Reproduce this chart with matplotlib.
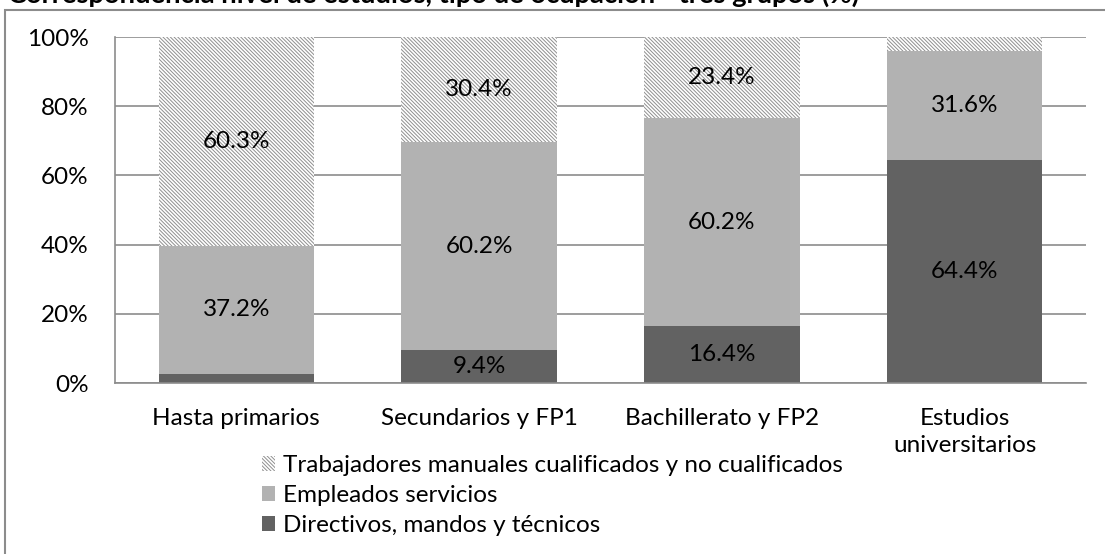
import numpy as np
import matplotlib.pyplot as plt
from matplotlib.patches import Rectangle, Patch

plt.rcParams['font.family'] = ['Lato', 'DejaVu Sans']
plt.rcParams['hatch.color'] = '#8f8f8f'
plt.rcParams['hatch.linewidth'] = 0.7

# Datos
categorias = ['Hasta primarios', 'Secundarios y FP1', 'Bachillerato y FP2', 'Estudios\nuniversitarios']
directivos = [2.5, 9.4, 16.4, 64.4]
empleados = [37.2, 60.2, 60.2, 31.6]
trabajadores = [60.3, 30.4, 23.4, 4.0]
series_labels = ['Directivos, mandos y técnicos', 'Empleados servicios',
                 'Trabajadores manuales cualificados y no cualificados']
min_label = 5.0  # no se rotulan los segmentos pequeños

W, H = 1105, 554
fs = 17.5
hatch = '\\' * 9
fig = plt.figure(figsize=(W / 100, H / 100), dpi=100)

# marco exterior del gráfico
fig.patches.append(Rectangle((5 / W, -0.05), 1.2, 1 - 10 / H + 0.05,
                             transform=fig.transFigure, fill=False,
                             edgecolor='#8c8c8c', linewidth=1.5, zorder=0))
fig.text(8 / W, 1 - 3 / H, 'Correspondencia nivel de estudios, tipo de ocupación - tres grupos (%)',
         fontsize=19.7, fontweight='bold', va='baseline', ha='left')

ax = fig.add_axes([115 / W, 1 - 383 / H, (1086 - 115) / W, (383 - 37) / H])

x = np.arange(len(categorias))
width = 0.64
b1 = ax.bar(x, directivos, width, color='#626262', zorder=2)
b2 = ax.bar(x, empleados, width, bottom=directivos, color='#b2b2b2', zorder=2)
bottom3 = np.array(directivos) + np.array(empleados)
b3 = ax.bar(x, trabajadores, width, bottom=bottom3, color='white',
            hatch=hatch, edgecolor='#8f8f8f', linewidth=0, zorder=2)

for bars, vals, bot in [(b1, directivos, np.zeros(4)),
                        (b2, empleados, np.array(directivos)),
                        (b3, trabajadores, bottom3)]:
    for xi, v, b in zip(x, vals, bot):
        if v >= min_label:
            ax.text(xi, b + v / 2, f'{v:.1f}%', ha='center', va='center',
                    fontsize=fs, color='black', zorder=3)

ax.set_xlim(-0.5, len(categorias) - 0.5)
ax.set_ylim(0, 100)
ax.set_yticks(range(0, 101, 20))
ax.set_yticklabels([f'{v}%' for v in range(0, 101, 20)], fontsize=fs)
ax.set_xticks(x)
ax.set_xticklabels(categorias, fontsize=fs, linespacing=1.35)
ax.tick_params(axis='both', length=0)
ax.tick_params(axis='x', pad=18)
ax.tick_params(axis='y', pad=19)
ax.grid(axis='y', color='#8c8c8c', linewidth=1.2, zorder=0)
for s in ['top', 'right']:
    ax.spines[s].set_visible(False)
ax.spines['left'].set_color('#8c8c8c')
ax.spines['bottom'].set_color('#8c8c8c')
ax.spines['left'].set_linewidth(1.2)
ax.spines['bottom'].set_linewidth(1.2)

handles = [Patch(facecolor='white', hatch=hatch, edgecolor='#8f8f8f', linewidth=0),
           Patch(facecolor='#b2b2b2'), Patch(facecolor='#626262')]
fig.legend(handles, series_labels[::-1], loc='upper left',
           bbox_to_anchor=(262 / W, 1 - 455 / H), frameon=False, fontsize=fs,
           handlelength=0.55, handleheight=0.55, handletextpad=0.3, labelspacing=0.37,
           borderaxespad=0, borderpad=0)

fig.savefig('out.png', dpi=100)
